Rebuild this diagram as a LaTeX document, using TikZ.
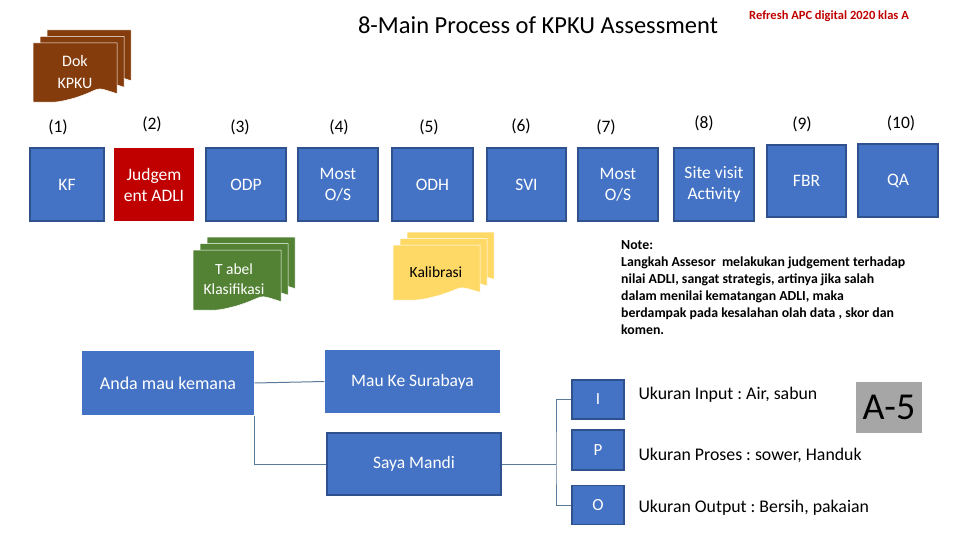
\documentclass[tikz,border=0pt]{standalone}
\usepackage{fontspec}
\setmainfont{Carlito}
\frenchspacing
\definecolor{blu}{HTML}{4472C4}
\definecolor{bluedge}{HTML}{2F528F}
\definecolor{redbox}{HTML}{C00000}
\definecolor{brownbox}{HTML}{843C0C}
\definecolor{greenbox}{HTML}{548235}
\definecolor{yellowbox}{HTML}{FFD966}
\definecolor{graybox}{HTML}{A6A6A6}
\definecolor{linec}{HTML}{5B7A9A}
\definecolor{titlered}{HTML}{C00000}
\newcommand\docpage[5]{%
  \fill[#5, draw=white, line width=0.5pt] (#1,#2) -- ++(#3,0) -- ++(0,0.86*#4)
    .. controls +(-0.3*#3,-0.14*#4) and +(0.35*#3,-0.16*#4) .. (#1+0.5*#3,#2+0.93*#4)
    .. controls +(-0.25*#3,0.10*#4) and +(0.25*#3,0) .. (#1,#2+#4) -- cycle;}
\newcommand\multidoc[5]{%
  \docpage{#1+14}{#2-13}{#3}{#4}{#5}%
  \docpage{#1+7}{#2-6.5}{#3}{#4}{#5}%
  \docpage{#1}{#2}{#3}{#4}{#5}}
\tikzset{
  pbox/.style={draw=bluedge, line width=1.2pt, fill=blu, text=white, align=center,
    font=\fontsize{17.5}{21}\selectfont, inner sep=2pt},
  num/.style={font=\fontsize{17.5}{21}\selectfont, text=black},
  doctext/.style={align=center, font=\fontsize{16}{22}\selectfont},
  ipo/.style={draw=bluedge, line width=1.2pt, fill=blu, text=white,
    minimum width=52pt, minimum height=39pt, font=\fontsize{17}{20}\selectfont},
  ulabel/.style={anchor=west, font=\fontsize{17.8}{21}\selectfont},
  conn/.style={draw=linec, line width=1pt},
}
\begin{document}
\begin{tikzpicture}[x=1pt,y=-1pt]
\useasboundingbox (0,0) rectangle (960,540);
\fill[white] (0,0) rectangle (960,540);
% titles
\node[font=\fontsize{24.5}{28}\selectfont] (title) at (538,25) {8-Main Process of KPKU Assessment};
\node[font=\bfseries\fontsize{12.5}{15}\selectfont, text=titlered] (refresh) at (829,16) {Refresh APC digital 2020 klas A};
% multi documents
\multidoc{33}{43}{84}{59}{brownbox}
\node[doctext, text=white] (dok) at (75,72) {Dok\\KPKU};
\multidoc{193}{250}{88}{60}{greenbox}
\node[doctext, font=\fontsize{15.5}{20}\selectfont, text=white] (tabel) at (234,279) {T abel\\Klasifikasi};
\multidoc{393}{245}{87}{55}{yellowbox}
\node[doctext, font=\fontsize{15.5}{20}\selectfont, text=black] (kalib) at (436,272) {Kalibrasi};
% numbers
\node[num] (n1) at (58,127) {(1)};
\node[num] (n2) at (152,124) {(2)};
\node[num] (n3) at (240,127) {(3)};
\node[num] (n4) at (339,127) {(4)};
\node[num] (n5) at (429,127) {(5)};
\node[num] (n6) at (521,126) {(6)};
\node[num] (n7) at (606,127) {(7)};
\node[num] (n8) at (704,123) {(8)};
\node[num] (n9) at (802,124) {(9)};
\node[num] (n10) at (901,123) {(10)};
% process boxes
\node[pbox, minimum width=74pt, minimum height=73pt] (kf) at (67,184.5) {KF};
\node[pbox, draw=none, fill=redbox, minimum width=80pt, minimum height=73pt] (judg) at (154,184.5) {Judgem\\ent ADLI};
\node[pbox, minimum width=80pt, minimum height=73pt] (odp) at (246,184.5) {ODP};
\node[pbox, minimum width=80pt, minimum height=73pt] (most1) at (338,184.5) {Most\\O/S};
\node[pbox, minimum width=81pt, minimum height=73pt] (odh) at (432.5,184.5) {ODH};
\node[pbox, minimum width=79pt, minimum height=73pt] (svi) at (526.5,184.5) {SVI};
\node[pbox, minimum width=80pt, minimum height=73pt] (most2) at (618,184.5) {Most\\O/S};
\node[pbox, minimum width=80pt, minimum height=73pt] (site) at (714,184.5) {Site visit\\Activity};
\node[pbox, minimum width=79pt, minimum height=72pt] (fbr) at (806.5,181) {FBR};
\node[pbox, minimum width=80pt, minimum height=73pt] (qa) at (898,180.5) {QA};
% note
\node[anchor=north west, align=left, font=\bfseries\fontsize{13.8}{17}\selectfont, inner sep=0pt] (note) at (621,240)
{Note:\\Langkah Assesor\ \ melakukan judgement terhadap\\nilai ADLI, sangat strategis, artinya jika salah\\dalam menilai kematangan ADLI, maka\\berdampak pada kesalahan olah data , skor dan\\komen.};
% tree
\node[pbox, draw=none, font=\fontsize{18}{21}\selectfont, minimum width=172pt, minimum height=64pt] (anda) at (168,383) {Anda mau kemana};
\node[pbox, draw=none, minimum width=175pt, minimum height=63pt] (mau) at (412.5,381.5) {Mau Ke Surabaya};
\node[pbox, minimum width=174pt, minimum height=62pt] (saya) at (414,464) {Saya Mandi};
\draw[conn] (anda.east) -- (mau.west);
\draw[conn] (anda.south east) |- (saya.west);
\node[ipo] (i) at (598,399.5) {I};
\node[ipo, minimum height=40pt] (p) at (598,450) {P};
\node[ipo] (o) at (598,505) {O};
\coordinate (bus) at (556,464);
\draw[conn] (saya.east) -- (bus);
\draw[conn] (i.west) -| (bus) |- (o.west);
\node[ulabel] (ui) at (635,395) {Ukuran Input : Air, sabun};
\node[ulabel] (up) at (635,455) {Ukuran Proses : sower, Handuk};
\node[ulabel] (uo) at (635,508) {Ukuran Output : Bersih, pakaian};
\node[fill=graybox, minimum width=66pt, minimum height=51pt, font=\fontsize{38}{40}\selectfont] (a5) at (889,407.5) {A-5};
\end{tikzpicture}
\end{document}
